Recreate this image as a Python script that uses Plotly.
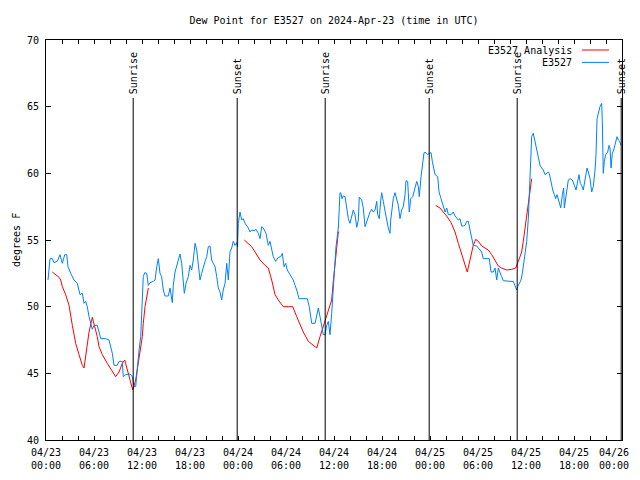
import pandas as pd
import plotly.graph_objects as go

BASE = pd.Timestamp("2024-04-23 00:00")

# E3527 station observations: hours since 2024-04-23 00:00 UTC, dew point (F)
obs_hours = [0.25, 0.5, 0.79, 1.0, 1.41, 1.75, 2.04, 2.34, 2.59, 2.75, 3.09, 3.5, 3.91, 4.25, 4.54, 4.75, 4.96, 5.16, 5.38, 5.59, 5.79, 6.0, 6.41, 6.63, 6.84, 7.46, 7.88, 8.29, 8.5, 8.91, 9.13, 9.54, 9.66, 9.96, 10.5, 10.79, 11.0, 11.21, 11.41, 11.63, 11.84, 11.96, 12.04, 12.16, 12.34, 12.59, 12.79, 13.0, 13.41, 13.63, 13.84, 14.04, 14.25, 14.46, 14.66, 14.88, 15.29, 15.5, 15.79, 15.91, 16.13, 16.34, 16.63, 16.75, 16.96, 17.16, 17.29, 17.5, 17.79, 18.0, 18.21, 18.41, 18.63, 18.84, 19.04, 19.25, 19.46, 19.66, 19.88, 20.09, 20.29, 20.5, 20.71, 20.91, 21.13, 21.34, 21.54, 21.75, 21.96, 22.16, 22.38, 22.59, 22.79, 23.0, 23.21, 23.41, 23.63, 23.84, 23.94, 24.04, 24.25, 24.46, 24.66, 24.88, 25.29, 25.5, 25.71, 26.0, 26.25, 26.54, 26.75, 26.96, 27.16, 27.5, 27.79, 28.0, 28.21, 28.41, 28.71, 29.04, 29.34, 29.54, 29.75, 29.96, 30.16, 30.38, 30.59, 30.91, 31.13, 31.34, 31.63, 32.16, 32.66, 32.91, 33.21, 33.63, 33.84, 34.04, 34.25, 34.46, 34.66, 34.88, 35.09, 35.29, 35.41, 35.5, 35.71, 35.91, 36.13, 36.25, 36.54, 36.63, 36.75, 36.88, 37.0, 37.16, 37.38, 37.59, 37.79, 38.0, 38.21, 38.41, 38.63, 38.84, 39.04, 39.16, 39.46, 39.66, 39.88, 40.09, 40.29, 40.5, 40.71, 40.91, 41.13, 41.34, 41.46, 41.66, 41.84, 41.96, 42.16, 42.38, 42.59, 42.79, 43.0, 43.09, 43.21, 43.41, 43.63, 43.84, 44.04, 44.25, 44.46, 44.66, 44.88, 45.0, 45.21, 45.41, 45.59, 45.84, 46.04, 46.34, 46.54, 46.66, 46.88, 47.09, 47.25, 47.5, 47.71, 47.91, 48.13, 48.29, 48.5, 48.63, 48.96, 49.13, 49.38, 49.66, 49.88, 50.09, 50.29, 50.63, 50.91, 51.13, 51.34, 51.54, 51.75, 51.96, 52.16, 52.38, 52.59, 52.79, 53.0, 53.21, 53.41, 53.84, 54.25, 54.46, 54.66, 55.09, 55.41, 55.63, 55.91, 56.13, 56.34, 56.54, 56.75, 56.96, 57.16, 57.59, 58.0, 58.41, 58.63, 58.84, 58.96, 59.13, 59.38, 59.54, 59.79, 60.09, 60.29, 60.38, 60.5, 60.59, 60.71, 60.91, 61.04, 61.21, 61.34, 61.46, 61.54, 61.75, 61.96, 62.16, 62.38, 62.59, 62.79, 62.91, 63.13, 63.34, 63.54, 63.71, 63.88, 64.13, 64.34, 64.54, 64.71, 64.79, 64.96, 65.09, 65.29, 65.5, 65.79, 66.04, 66.25, 66.46, 66.63, 66.79, 66.96, 67.16, 67.29, 67.46, 67.63, 67.79, 68.0, 68.21, 68.41, 68.63, 68.75, 68.88, 69.04, 69.25, 69.46, 69.54, 69.66, 69.79, 69.96, 70.21, 70.38, 70.5, 70.63, 70.79, 70.96, 71.13, 71.38, 71.54, 71.71, 71.88]
obs_dewpt = [52.0, 53.6, 53.6, 53.3, 53.4, 53.9, 53.25, 53.9, 53.9, 53.0, 52.5, 52.0, 51.75, 50.9, 51.0, 50.25, 50.4, 50.0, 49.25, 48.75, 48.3, 48.6, 48.6, 48.1, 47.6, 47.6, 47.5, 46.5, 45.6, 45.6, 45.9, 45.9, 44.75, 44.9, 44.95, 44.75, 44.0, 44.0, 45.5, 46.75, 47.75, 49.5, 51.0, 52.25, 52.55, 52.5, 51.6, 51.8, 51.9, 52.0, 53.0, 53.6, 52.5, 52.25, 51.25, 50.8, 50.8, 51.4, 50.3, 51.6, 52.6, 53.1, 53.6, 53.95, 53.25, 52.1, 51.0, 51.75, 52.25, 53.1, 52.75, 53.5, 54.75, 54.25, 53.25, 52.0, 52.5, 53.0, 53.4, 53.75, 54.5, 54.55, 53.5, 53.25, 53.0, 52.25, 51.4, 51.1, 50.5, 51.25, 51.75, 53.25, 52.0, 54.1, 54.4, 54.9, 54.6, 54.8, 54.5, 56.25, 57.1, 56.5, 56.6, 56.25, 55.9, 55.6, 55.75, 55.7, 55.8, 55.5, 55.1, 56.0, 55.9, 55.5, 54.6, 54.9, 54.25, 53.75, 53.4, 53.7, 53.75, 54.0, 53.0, 53.25, 52.75, 52.5, 52.3, 52.0, 51.6, 51.25, 50.6, 50.6, 50.6, 50.0, 48.75, 48.75, 49.25, 49.9, 49.25, 48.5, 47.9, 47.9, 48.6, 48.9, 48.25, 47.9, 49.5, 51.5, 53.6, 54.5, 55.9, 57.4, 58.55, 58.5, 58.1, 58.3, 58.25, 57.4, 56.6, 56.25, 56.9, 57.25, 56.9, 55.95, 56.5, 58.2, 58.0, 57.4, 56.0, 56.4, 56.8, 57.1, 57.3, 57.1, 57.25, 57.9, 56.9, 56.6, 58.0, 58.55, 57.9, 57.0, 56.5, 55.9, 55.5, 56.5, 57.25, 58.1, 58.55, 58.1, 57.6, 56.6, 57.25, 57.5, 58.4, 59.45, 59.4, 57.1, 58.1, 58.25, 58.75, 59.4, 59.0, 58.25, 59.75, 60.75, 61.55, 61.55, 61.4, 61.5, 61.55, 60.9, 60.1, 59.9, 59.75, 58.6, 58.1, 57.6, 57.1, 57.4, 56.9, 56.9, 57.1, 56.8, 56.6, 56.5, 56.6, 56.05, 56.05, 56.1, 56.4, 56.4, 55.75, 55.0, 54.6, 54.55, 54.25, 54.1, 53.6, 53.6, 53.6, 52.6, 52.6, 52.9, 52.0, 52.9, 52.5, 52.25, 51.95, 51.9, 51.9, 51.9, 51.6, 51.25, 51.5, 51.75, 52.0, 52.5, 53.75, 54.9, 56.6, 58.25, 59.9, 61.6, 62.75, 63.0, 62.6, 62.1, 61.75, 61.5, 61.0, 60.6, 60.4, 60.25, 59.9, 60.0, 60.1, 60.0, 59.3, 58.75, 58.4, 58.1, 58.4, 57.9, 57.4, 58.4, 58.9, 57.4, 58.25, 58.9, 59.5, 59.6, 59.5, 59.1, 58.75, 59.4, 59.9, 59.25, 59.1, 58.75, 59.25, 59.9, 60.4, 60.1, 59.6, 58.6, 59.0, 60.25, 61.4, 64.1, 64.6, 65.0, 65.25, 63.9, 60.0, 60.9, 61.4, 61.6, 62.1, 61.9, 60.4, 61.5, 61.75, 62.25, 62.75, 62.5, 62.4, 62.1]

# E3527 Analysis (three segments, None marks gaps)
ana_hours = [0.79, 1.21, 1.63, 1.84, 2.04, 2.46, 2.88, 3.29, 3.71, 4.13, 4.54, 4.75, 4.96, 5.38, 5.79, 6.0, 6.41, 6.63, 7.04, 7.66, 8.29, 8.71, 9.13, 9.54, 9.84, 10.16, 10.5, 10.84, 11.21, 11.63, 12.04, 12.16, 12.38, 12.79,
             18.0,
             24.79, 25.29, 25.71, 26.13, 26.75, 27.38, 27.79, 28.21, 28.63, 29.04, 29.66, 30.29, 30.84, 31.34, 31.75, 32.16, 32.79, 33.41, 33.84, 34.25, 34.66, 35.09, 35.41, 35.71, 35.91, 36.25, 36.54, 36.66,
             42.0,
             48.71, 49.25, 49.66, 50.09, 50.63, 51.13, 51.54, 51.96, 52.38, 52.66, 53.0, 53.41, 53.71, 54.04, 54.46, 54.88, 55.29, 55.71, 56.13, 56.54, 56.96, 57.59, 58.21, 58.71, 59.04, 59.46, 59.66, 59.79, 60.21, 60.5, 60.71]
ana_dewpt = [52.6, 52.4, 52.2, 52.0, 51.5, 50.9, 50.1, 48.6, 47.25, 46.4, 45.6, 45.4, 46.4, 48.1, 49.2, 48.75, 47.75, 47.0, 46.4, 45.75, 45.1, 44.75, 45.1, 45.75, 46.0, 45.25, 44.5, 43.75, 44.5, 46.25, 47.75, 48.75, 50.0, 51.4,
             None,
             55.0, 54.7, 54.5, 54.1, 53.5, 53.1, 52.9, 52.0, 50.9, 50.5, 50.0, 50.0, 50.0, 49.25, 48.6, 48.1, 47.4, 47.1, 46.9, 47.75, 48.5, 49.25, 50.0, 50.5, 51.9, 53.75, 55.6, 55.6,
             None,
             57.6, 57.4, 57.1, 56.8, 56.3, 55.6, 54.75, 53.9, 53.1, 52.6, 53.5, 54.6, 55.05, 54.9, 54.55, 54.4, 54.25, 53.9, 53.5, 53.05, 52.9, 52.75, 52.8, 52.9, 53.4, 54.1, 54.9, 55.5, 57.4, 59.0, 59.6]

# Sun events (hours since start)
sun_hours = [10.9, 23.9, 34.9, 47.9, 58.9, 71.9]
sun_labels = ["Sunrise", "Sunset", "Sunrise", "Sunset", "Sunrise", "Sunset"]

# x tick labels (every 6 h)
tick_hours = [0, 6, 12, 18, 24, 30, 36, 42, 48, 54, 60, 66, 72]
tick_dates = ["04/23", "04/23", "04/23", "04/23", "04/24", "04/24", "04/24", "04/24",
              "04/25", "04/25", "04/25", "04/25", "04/26"]
tick_times = ["00:00", "06:00", "12:00", "18:00", "00:00", "06:00", "12:00", "18:00",
              "00:00", "06:00", "12:00", "18:00", "00:00"]

series_names = ["E3527 Analysis", "E3527"]
series_colors = ["#ff0000", "#0080ff"]

FONT = "DejaVu Sans Mono"
OFF = 8  # page body margin offset
W, H = 640 - 2 * OFF, 480 - 2 * OFF


def to_time(hours):
    return [BASE + pd.Timedelta(hours=h) for h in hours]


fig = go.Figure()
fig.add_trace(go.Scatter(x=to_time(ana_hours), y=ana_dewpt, mode="lines",
                         line=dict(color=series_colors[0], width=1),
                         connectgaps=False, name=series_names[0], showlegend=False))
fig.add_trace(go.Scatter(x=to_time(obs_hours), y=obs_dewpt, mode="lines",
                         line=dict(color=series_colors[1], width=1),
                         name=series_names[1], showlegend=False))

LINE_TOP = 65.65
for h, lab in zip(sun_hours, sun_labels):
    t = BASE + pd.Timedelta(hours=h)
    fig.add_shape(type="line", xref="x", yref="y", x0=t, x1=t, y0=40, y1=LINE_TOP,
                  line=dict(color="black", width=1))
    fig.add_annotation(x=t, y=LINE_TOP + 0.15, xref="x", yref="y", text=lab,
                       textangle=-90, showarrow=False, xanchor="center", yanchor="bottom",
                       font=dict(family=FONT, size=10, color="black"))

# manual legend (text left of line sample, gnuplot style)
leg_y = [0.975, 0.944]
for name, col, yy in zip(series_names, series_colors, leg_y):
    fig.add_annotation(x=0.9167, y=yy, xref="paper", yref="paper", text=name,
                       showarrow=False, xanchor="right", yanchor="middle",
                       font=dict(family=FONT, size=10, color="black"))
    fig.add_shape(type="line", xref="paper", yref="paper", x0=0.9306, x1=0.9774,
                  y0=yy, y1=yy, line=dict(color=col, width=1))

fig.add_annotation(x=(8.5 - 46) / 576, y=0.5, xref="paper", yref="paper", text="degrees F",
                   textangle=-90, showarrow=False, xanchor="left", yanchor="middle",
                   font=dict(family=FONT, size=10, color="black"))

# tick labels; the final one is drawn as an annotation kept inside the drawing area
tick_text = [d + "<br>" + tm for d, tm in zip(tick_dates, tick_times)]
last_label = tick_text[-1]
tick_text[-1] = ""
fig.add_annotation(x=(631 - 46) / 576, y=0, xref="paper", yref="paper", text=last_label,
                   showarrow=False, xanchor="right", yanchor="top", yshift=-5,
                   font=dict(family=FONT, size=10, color="black"))

fig.update_layout(
    width=W, height=H,
    margin=dict(l=46 - OFF, r=W - (46 - OFF) - 576, t=40 - OFF, b=H - (40 - OFF) - 400,
                autoexpand=False),
    paper_bgcolor="white", plot_bgcolor="white",
    font=dict(family=FONT, size=10, color="black"),
    title=dict(text="Dew Point for E3527 on 2024-Apr-23 (time in UTC)",
               x=0.5, xref="paper", y=1 - (20 - OFF) / H, yanchor="middle", xanchor="center",
               font=dict(family=FONT, size=10, color="black")),
    showlegend=False,
)
fig.update_xaxes(
    type="date", automargin=False,
    range=[BASE, BASE + pd.Timedelta(hours=72)],
    tickmode="array", tickvals=to_time(tick_hours), ticktext=tick_text,
    ticks="inside", ticklen=4, tickcolor="black", tickwidth=1,
    minor=dict(dtick=2 * 3600 * 1000, tick0=BASE, ticks="inside", ticklen=4, tickcolor="black"),
    showline=True, linecolor="black", linewidth=1, mirror="allticks",
    showgrid=False, zeroline=False, ticklabelstandoff=3,
    tickfont=dict(family=FONT, size=10, color="black"),
)
fig.update_yaxes(
    automargin=False,
    range=[40, 70], dtick=5, tick0=40,
    ticks="inside", ticklen=5, tickcolor="black", tickwidth=1,
    showline=True, linecolor="black", linewidth=1, mirror="allticks",
    showgrid=False, zeroline=False, ticklabelstandoff=4,
    tickfont=dict(family=FONT, size=10, color="black"),
)

fig.write_html("out.html")
